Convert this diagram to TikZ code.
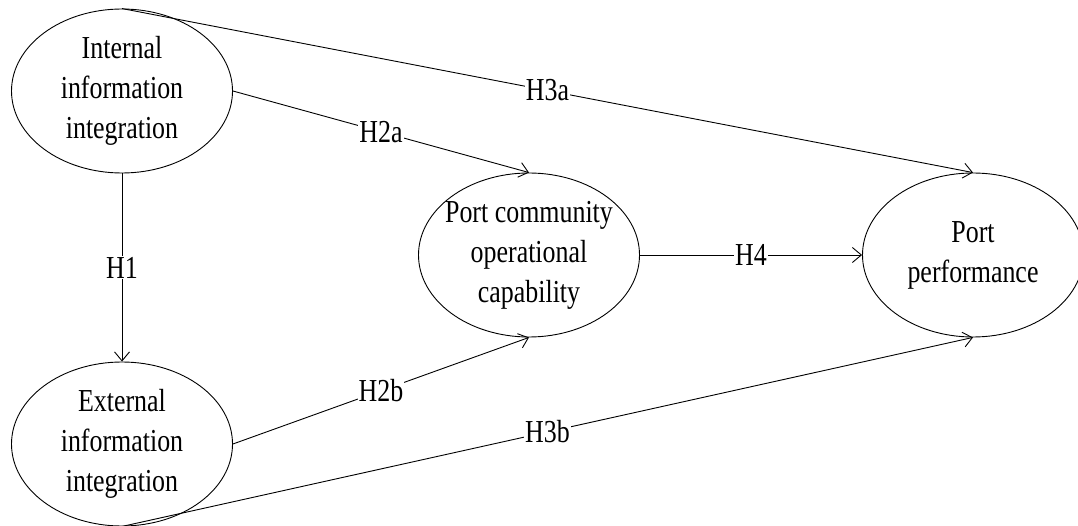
\documentclass[tikz,border=0pt]{standalone}
\usepackage{fontspec}
\setmainfont{Liberation Serif}[FakeStretch=0.81]
\usetikzlibrary{shapes.geometric,arrows.meta}
\begin{document}
\begin{tikzpicture}[x=1pt,y=-1pt,
  construct/.style={draw, line width=0.9pt, ellipse, minimum width=221pt,
    minimum height=164pt, inner sep=-12pt, align=center,
    font=\fontsize{32}{40}\selectfont},
  link/.style={line width=0.9pt, -{Straight Barb[length=9pt,width=15pt]}},
  hyp/.style={fill=white, inner sep=1pt, font=\fontsize{32}{36}\selectfont}]
\clip (0,0) rectangle (1078,526);
\fill[white] (0,0) rectangle (1078,526);

% constructs
\node[construct] (iii) at (122,91)  {Internal\\information\\integration};
\node[construct] (eii) at (122,444) {External\\information\\integration};
\node[construct] (pco) at (529,255) {Port community\\operational\\capability};
\node[construct] (ppf) at (973,255) {Port\\performance};

% hypothesised paths
\draw[link] (iii.south) -- node[hyp] {H1}  (eii.north);
\draw[link] (iii.east)  -- node[hyp] {H2a} (pco.north);
\draw[link] (eii.east)  -- node[hyp] {H2b} (pco.south);
\draw[link] (iii.north) -- node[hyp] {H3a} (ppf.north);
\draw[link] (eii.south) -- node[hyp] {H3b} (ppf.south);
\draw[link] (pco.east)  -- node[hyp] {H4}  (ppf.west);
\end{tikzpicture}
\end{document}
